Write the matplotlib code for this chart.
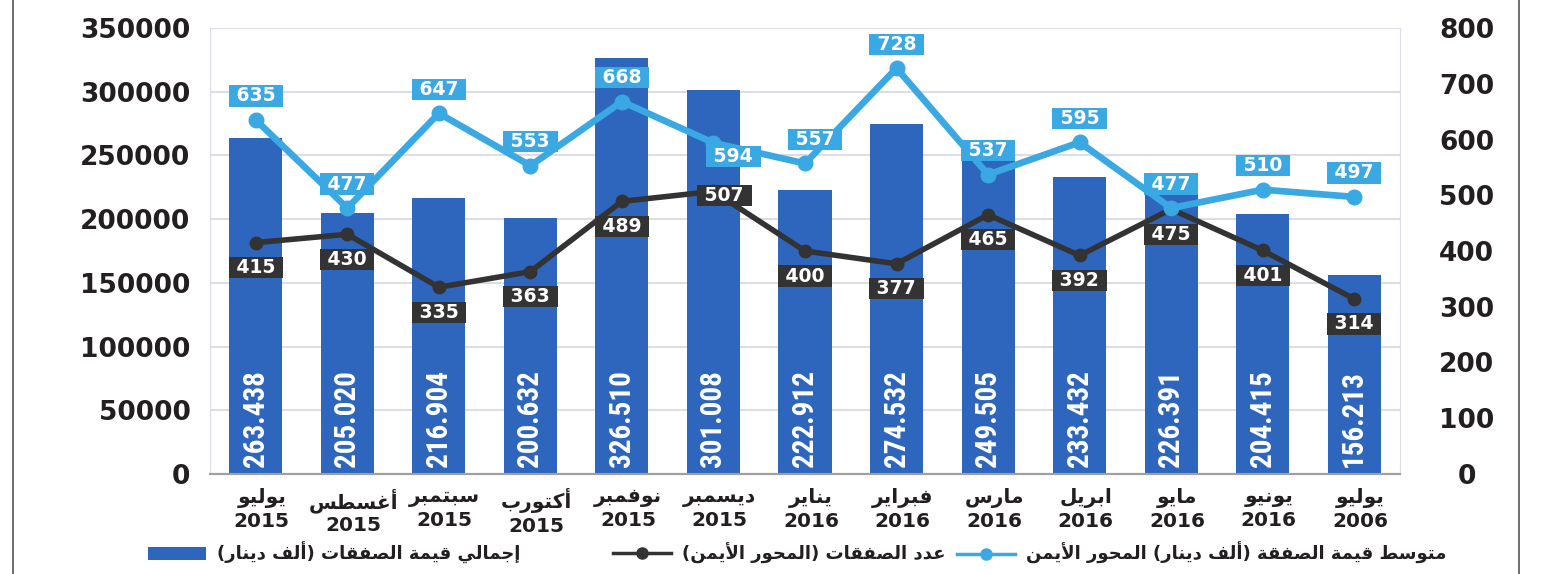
import matplotlib
matplotlib.use('Agg')
import matplotlib.pyplot as plt
import matplotlib.transforms as mtransforms
from matplotlib.lines import Line2D
from matplotlib.patches import Patch
import numpy as np

# ---------------- data ----------------
months = ['يوليو', 'أغسطس', 'سبتمبر', 'أكتورب', 'نوفمبر', 'ديسمبر', 'يناير',
          'فبراير', 'مارس', 'ابريل', 'مايو', 'يونيو', 'يوليو']
years = ['2015', '2015', '2015', '2015', '2015', '2015', '2016',
         '2016', '2016', '2016', '2016', '2016', '2006']
total_value = [263438, 205020, 216904, 200632, 326510, 301008, 222912,
               274532, 249505, 233432, 226391, 204415, 156213]
deal_count = [415, 430, 335, 363, 489, 507, 400, 377, 465, 392, 475, 401, 314]
avg_value = [635, 477, 647, 553, 668, 594, 557, 728, 537, 595, 477, 510, 497]
left_ticks = [0, 50000, 100000, 150000, 200000, 250000, 300000, 350000]
right_ticks = [0, 100, 200, 300, 400, 500, 600, 700, 800]
legend_bar = 'إجمالي قيمة الصفقات (ألف دينار)'
legend_count = 'عدد الصفقات (المحور الأيمن)'
legend_avg = 'متوسط قيمة الصفقة (ألف دينار) المحور الأيمن'

# ---------------- simple Arabic shaping (presentation forms) ----------------
_DUAL = {'ئ': 0xFE89, 'ب': 0xFE8F, 'ت': 0xFE95, 'ث': 0xFE99, 'ج': 0xFE9D,
         'ح': 0xFEA1, 'خ': 0xFEA5, 'س': 0xFEB1, 'ش': 0xFEB5, 'ص': 0xFEB9,
         'ض': 0xFEBD, 'ط': 0xFEC1, 'ظ': 0xFEC5, 'ع': 0xFEC9, 'غ': 0xFECD,
         'ف': 0xFED1, 'ق': 0xFED5, 'ك': 0xFED9, 'ل': 0xFEDD, 'م': 0xFEE1,
         'ن': 0xFEE5, 'ه': 0xFEE9, 'ي': 0xFEF1}
_RIGHT = {'آ': 0xFE81, 'أ': 0xFE83, 'ؤ': 0xFE85, 'إ': 0xFE87, 'ا': 0xFE8D,
          'ة': 0xFE93, 'د': 0xFEA9, 'ذ': 0xFEAB, 'ر': 0xFEAD, 'ز': 0xFEAF,
          'و': 0xFEED, 'ى': 0xFEEF,
          '\uE001': 0xFEF5, '\uE002': 0xFEF7, '\uE003': 0xFEF9, '\uE004': 0xFEFB}
_LIG = {'لآ': '\uE001', 'لأ': '\uE002', 'لإ': '\uE003', 'لا': '\uE004'}


def ar(text):
    for k, v in _LIG.items():
        text = text.replace(k, v)
    out = []
    n = len(text)
    for i, c in enumerate(text):
        prev = text[i - 1] if i > 0 else ''
        nxt = text[i + 1] if i < n - 1 else ''
        joining = c in _DUAL or c in _RIGHT
        if not joining:
            out.append(c)
            continue
        jp = prev in _DUAL
        jn = c in _DUAL and (nxt in _DUAL or nxt in _RIGHT)
        base = _DUAL.get(c, _RIGHT.get(c))
        if jp and jn:
            cp = base + 3
        elif jp:
            cp = base + 1
        elif jn:
            cp = base + 2
        else:
            cp = base
        out.append(chr(cp))
    s = ''.join(out)[::-1]
    s = s.replace('(', '\0').replace(')', '(').replace('\0', ')')
    return s


# ---------------- style ----------------
BAR = '#2e66be'
LIGHT = '#3aa8e2'
DARK = '#333333'
TXT = '#231f20'
GRID = '#dddde5'

W, H = 1547, 574
fig = plt.figure(figsize=(W / 100, H / 100), dpi=100)
ax = fig.add_axes([210 / W, 1 - 474 / H, (1400 - 210) / W, (474 - 28) / H])
ax2 = ax.twinx()

x = np.arange(len(months))
ax.bar(x, total_value, width=0.58, color=BAR, zorder=2)
ax.set_xlim(-0.5, len(months) - 0.5)
ax.set_ylim(0, 350000)
ax.set_yticks(left_ticks)
ax.set_yticklabels([str(t) for t in left_ticks])
ax2.set_ylim(0, 800)
ax2.set_yticks(right_ticks)
ax2.set_yticklabels([str(t) for t in right_ticks])

ax.grid(axis='y', color=GRID, lw=1.5, zorder=0)
ax.set_axisbelow(True)
for a in (ax, ax2):
    a.spines['top'].set_visible(False)
    a.spines['left'].set_color(GRID)
    a.spines['right'].set_color(GRID)
    a.spines['bottom'].set_color('#a0a0a0')
    a.spines['bottom'].set_linewidth(1.5)
    a.tick_params(length=0)

ax.tick_params(axis='y', pad=14, labelsize=19, labelcolor=TXT)
for t in ax.get_yticklabels():
    t.set_fontweight('bold')
ax2.tick_params(axis='y', pad=48, labelsize=19, labelcolor=TXT)
for t in ax2.get_yticklabels():
    t.set_fontweight('bold')
    t.set_horizontalalignment('center')

ax.set_xticks(x)
ax.set_xticklabels([ar(m) + '\n' + y for m, y in zip(months, years)],
                   fontsize=14.5, fontweight='bold', color=TXT, linespacing=1.25)
ax.tick_params(axis='x', pad=10)
offset = mtransforms.ScaledTranslation(6 / 100, 0, fig.dpi_scale_trans)
for t in ax.get_xticklabels():
    t.set_transform(t.get_transform() + offset)

# bar value labels
for xi, v in zip(x, total_value):
    ax.annotate(f'{v / 1000:.3f}', (xi, 0), xytext=(0, 5), textcoords='offset points',
                rotation=90, ha='center', va='bottom', color='white', fontsize=21,
                fontweight='bold',
                family=['Roboto Condensed', 'Liberation Sans Narrow', 'DejaVu Sans'],
                zorder=3)

ax2.set_zorder(ax.get_zorder() + 1)
ax2.patch.set_visible(False)

ax2.plot(x, deal_count, color=DARK, lw=4, marker='o', ms=9, zorder=3,
         solid_capstyle='round')
ax2.plot(x, avg_value, color=LIGHT, lw=4.8, marker='o', ms=10.5, zorder=4,
         solid_capstyle='round')

px = 0.72  # pixels -> points
dark_off = {5: (11, -4)}
light_off = {5: (20, -14), 6: (10, 24)}
for i, (xi, v) in enumerate(zip(x, deal_count)):
    dx, dy = dark_off.get(i, (0, -25))
    ax2.annotate(f' {v} ', (xi, v), xytext=(dx * px, dy * px), textcoords='offset points',
                 ha='center', va='center', color='white', fontsize=13.5, fontweight='bold',
                 bbox=dict(boxstyle='square,pad=0.06', fc=DARK, ec='none'), zorder=6)
for i, (xi, v) in enumerate(zip(x, avg_value)):
    dx, dy = light_off.get(i, (0, 24))
    ax2.annotate(f' {v} ', (xi, v), xytext=(dx * px, dy * px), textcoords='offset points',
                 ha='center', va='center', color='white', fontsize=13.5, fontweight='bold',
                 bbox=dict(boxstyle='square,pad=0.06', fc=LIGHT, ec='none'), zorder=6)

# legends (right to left)
leg_y = 1 - 553 / H
items = [
    (Patch(facecolor=BAR), legend_bar, 520),
    (Line2D([], [], color=DARK, lw=2.5, marker='o', ms=8), legend_count, 945),
    (Line2D([], [], color=LIGHT, lw=2.5, marker='o', ms=8), legend_avg, 1446),
]
for h, lab, xr in items:
    lg = fig.legend([h], [ar(lab)], loc='center right', bbox_to_anchor=(xr / W, leg_y),
                    frameon=False, borderpad=0, borderaxespad=0, handlelength=3.2,
                    handleheight=0.65, handletextpad=0.6,
                    prop=dict(size=13, weight='bold'))
    for t in lg.get_texts():
        t.set_color(TXT)

# page border lines
fig.add_artist(Line2D([13 / W, 13 / W], [0, 1], color='#555555', lw=1.2))
fig.add_artist(Line2D([1519 / W, 1519 / W], [0, 1], color='#555555', lw=1.2))

fig.savefig('out.png', dpi=100)
